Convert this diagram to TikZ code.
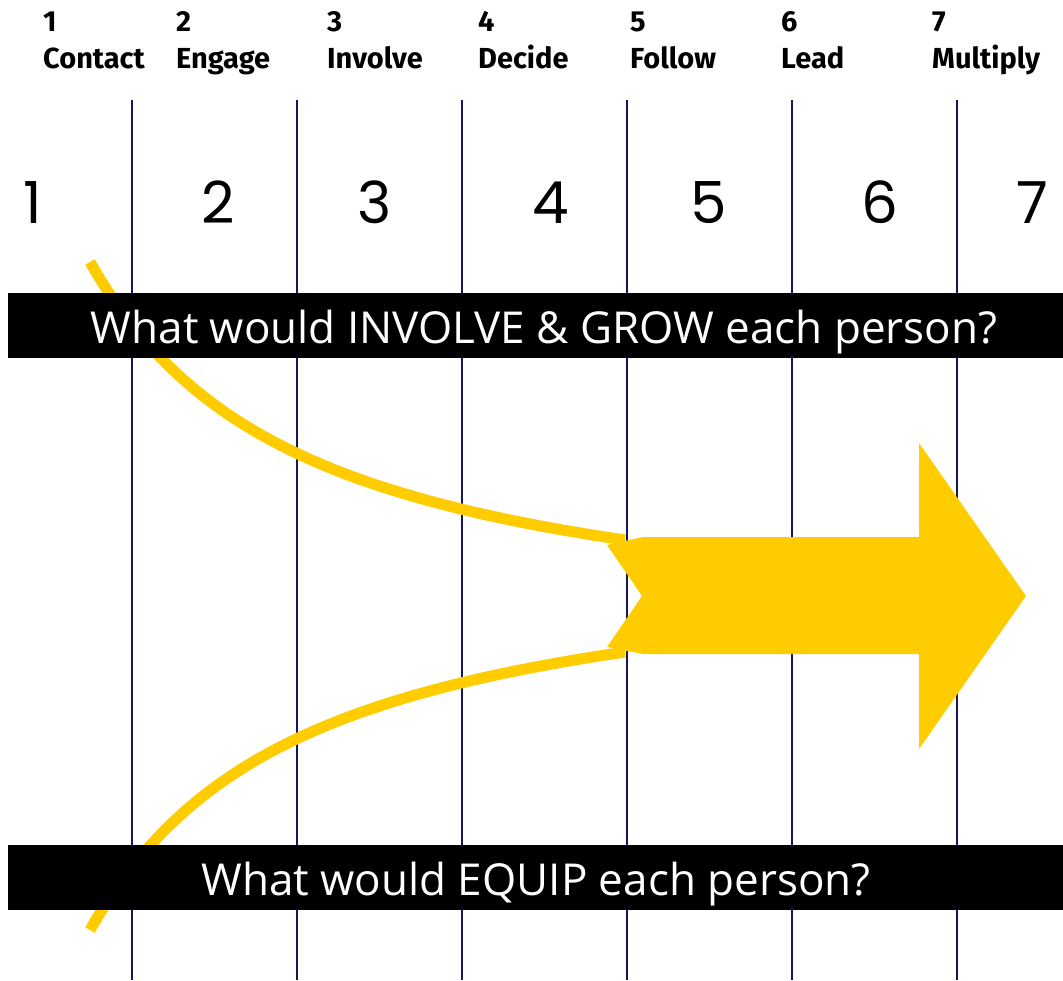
\documentclass[tikz,border=0pt]{standalone}
\usepackage{fontspec}
\newfontfamily\headfont{Fira Sans}
\newfontfamily\numfont{Poppins}
\newfontfamily\bannerfont{Open Sans}
\definecolor{gold}{HTML}{FFCC00}
\definecolor{navy}{HTML}{16165E}
\tikzset{
  stagenum/.style={anchor=base west, inner sep=0pt, font=\headfont\bfseries\fontsize{29}{30}\selectfont},
  stagename/.style={anchor=base west, inner sep=0pt, font=\headfont\bfseries\fontsize{29}{30}\selectfont},
  bignum/.style={anchor=base, inner sep=0pt, font=\numfont\fontsize{58}{60}\selectfont},
  divider/.style={draw=navy, line width=2pt},
  flow/.style={draw=gold, line width=11pt},
  bannerbar/.style={fill=black},
  bannertext/.style={anchor=base, inner sep=0pt, text=white, font=\bannerfont\fontsize{44}{46}\selectfont}
}
\begin{document}
\begin{tikzpicture}[x=1pt, y=-1pt]
\useasboundingbox (0,0) rectangle (1063,980);

% column dividers
\foreach \x in {132,297,462,627,792,957}
  \draw[divider] (\x,100) -- (\x,980);

% stage headings
\foreach \x/\n/\lbl in {43/1/Contact,176/2/Engage,327/3/Involve,478/4/Decide,630/5/Follow,781/6/Lead,932/7/Multiply} {
  \node[stagenum] (num\n) at (\x,31) {\n};
  \node[stagename] (lbl\n) at (\x,68) {\lbl};
}

% large column numbers
\foreach \x/\n in {33/1,218/2,375/3,551/4,709/5,880/6,1032/7}
  \node[bignum] (col\n) at (\x,223) {\n};

% two converging paths
\coordinate (topstart) at (90,262);
\coordinate (topend) at (625,540);
\coordinate (botstart) at (90,930);
\coordinate (botend) at (625,652);
\draw[flow] (topstart) .. controls (180,420) and (320,495) .. (topend);
\draw[flow] (botstart) .. controls (180,772) and (320,697) .. (botend);

% block arrow
\fill[gold] (643,537) -- (919,537) -- (919,443) -- (1026,596) -- (919,749)
  -- (919,654) -- (643,654) -- (607,647) -- (642,596) -- (607,545) -- cycle;

% question banners
\fill[bannerbar] (8,293) rectangle (1063,358);
\node[bannertext] (q1) at (544,343) {What would INVOLVE \& GROW each person?};
\fill[bannerbar] (8,845) rectangle (1063,910);
\node[bannertext] (q2) at (536,895) {What would EQUIP each person?};
\end{tikzpicture}
\end{document}
